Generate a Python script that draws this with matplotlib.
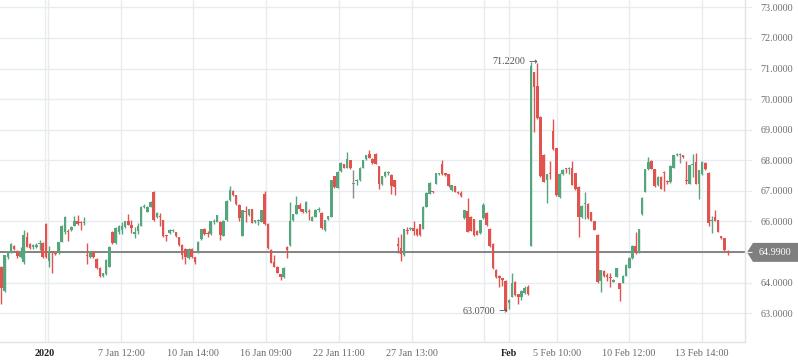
import matplotlib
matplotlib.use('Agg')
import matplotlib.pyplot as plt
import matplotlib.transforms as mtransforms
from matplotlib.patches import Polygon
import numpy as np

# candle data (o, h, l, c), hourly-ish bars
opens = [
    64.52, 63.72, 64.83, 65.01, 65.21, 65.04, 64.85, 64.66, 65.48, 65.26,
    65.18, 65.18, 65.25, 65.28, 65.93, 64.72, 65.04, 64.96, 64.96, 65.34,
    65.64, 65.66, 65.72, 65.86, 66.02, 65.96, 65.94, 64.92, 64.83, 64.99,
    64.77, 64.48, 64.21, 64.28, 64.52, 65.66, 65.28, 65.64, 65.72, 65.83,
    66.00, 65.88, 65.60, 65.70, 65.86, 66.46, 66.32, 66.48, 66.97, 66.13,
    66.15, 66.04, 65.55, 65.62, 65.70, 65.64, 65.48, 65.24, 65.10, 64.80,
    65.10, 64.83, 65.00, 65.42, 65.75, 65.62, 65.58, 65.99, 65.99, 65.99,
    65.53, 66.04, 66.70, 67.00, 66.86, 66.53, 65.53, 66.33, 66.20, 66.40,
    65.97, 66.00, 65.99, 66.89, 65.93, 65.07, 64.68, 64.52, 64.27, 64.17,
    65.17, 65.23, 66.04, 66.26, 66.53, 66.40, 66.30, 66.32, 66.02, 66.15,
    66.38, 66.28, 65.72, 66.08, 66.15, 67.48, 67.10, 67.64, 67.87, 67.76,
    68.00, 67.22, 67.33, 67.35, 67.76, 68.03, 68.22, 68.05, 68.22, 67.80,
    67.22, 67.48, 67.58, 67.53, 67.35, 65.25, 65.14, 64.90, 65.72, 65.74,
    65.80, 65.77, 65.91, 65.77, 66.48, 66.91, 66.99, 67.24, 67.55, 67.89,
    67.58, 67.54, 67.02, 67.15, 66.97, 66.93, 66.10, 66.35, 66.15, 66.07,
    65.70, 65.61, 66.10, 66.28, 65.77, 65.26, 64.43, 64.22, 64.14, 64.07,
    63.32, 63.54, 64.03, 63.62, 63.54, 63.65, 63.85, 65.21, 70.87, 70.42,
    69.42, 68.17, 67.34, 67.56, 68.97, 68.39, 66.80, 67.55, 67.74, 67.72,
    67.74, 67.58, 67.14, 66.14, 66.56, 66.58, 66.30, 66.00, 65.57, 64.04,
    64.39, 64.24, 64.17, 64.03, 64.20, 63.98, 64.00, 64.23, 64.49, 64.80,
    65.20, 64.98, 66.24, 66.97, 67.70, 67.98, 67.71, 67.18, 67.46, 67.60,
    67.32, 67.29, 67.76, 68.16, 68.18, 68.16, 67.34, 67.24, 67.86, 67.95,
    67.24, 67.54, 67.92, 67.59, 66.00, 66.13, 66.04, 65.52, 65.45, 65.05,
]
highs = [
    64.55, 64.91, 65.02, 65.30, 65.24, 65.06, 65.15, 65.72, 65.64, 65.30,
    65.25, 65.28, 65.40, 65.32, 65.95, 65.20, 65.05, 64.98, 65.34, 65.88,
    66.17, 65.75, 65.86, 66.18, 66.22, 66.00, 66.13, 65.30, 65.05, 65.02,
    64.80, 64.50, 64.32, 64.78, 65.20, 65.70, 65.82, 65.88, 65.98, 66.02,
    66.24, 66.06, 65.82, 65.95, 66.50, 66.56, 66.50, 66.66, 67.00, 66.31,
    66.29, 66.06, 65.56, 65.74, 65.76, 65.66, 65.50, 65.26, 65.12, 65.12,
    65.13, 64.85, 65.36, 65.77, 65.78, 65.70, 66.03, 66.08, 66.22, 66.01,
    66.04, 66.69, 67.15, 67.04, 66.88, 66.56, 66.39, 66.50, 66.42, 66.42,
    66.06, 66.08, 66.39, 66.99, 65.95, 65.09, 64.90, 64.54, 64.29, 64.50,
    65.19, 66.64, 66.26, 66.83, 66.60, 66.42, 66.66, 66.40, 66.17, 66.41,
    66.46, 66.30, 66.06, 66.19, 67.37, 67.50, 67.64, 67.93, 67.89, 68.27,
    68.02, 67.68, 67.39, 67.78, 68.02, 68.18, 68.33, 68.07, 68.24, 67.82,
    67.50, 67.64, 67.64, 67.56, 67.37, 65.50, 65.58, 65.76, 65.82, 65.82,
    66.00, 65.79, 65.93, 66.50, 66.95, 67.28, 67.01, 67.59, 67.60, 68.00,
    67.60, 67.56, 67.20, 67.17, 67.00, 67.00, 66.39, 66.78, 66.17, 66.09,
    65.72, 66.06, 66.60, 66.30, 65.79, 65.28, 64.45, 64.24, 64.16, 64.09,
    63.45, 64.30, 64.05, 63.64, 63.76, 63.90, 63.92, 71.22, 70.89, 71.18,
    69.44, 68.19, 67.56, 67.98, 69.34, 68.41, 67.57, 67.70, 67.76, 67.78,
    67.98, 67.60, 67.16, 66.53, 66.95, 66.60, 66.32, 66.02, 65.59, 64.43,
    64.41, 64.30, 64.30, 64.12, 64.49, 64.00, 64.25, 64.60, 64.84, 65.22,
    65.66, 65.76, 66.80, 67.72, 68.10, 68.00, 67.73, 67.48, 67.48, 67.65,
    67.35, 67.84, 68.18, 68.24, 68.25, 68.18, 67.98, 67.86, 68.20, 68.25,
    67.69, 67.97, 67.94, 67.61, 66.19, 66.39, 66.06, 65.54, 65.47, 65.07,
]
lows = [
    63.30, 63.70, 64.78, 64.98, 65.08, 64.79, 64.82, 64.62, 65.16, 65.10,
    65.10, 65.12, 65.07, 64.80, 64.80, 64.50, 64.30, 64.92, 64.94, 65.32,
    65.60, 65.37, 65.70, 65.84, 65.89, 65.73, 65.90, 64.60, 64.80, 64.82,
    64.45, 64.18, 64.18, 64.25, 64.50, 65.25, 65.26, 65.60, 65.58, 65.80,
    65.88, 65.62, 65.45, 65.60, 65.84, 66.44, 66.30, 66.46, 66.03, 66.10,
    65.85, 65.50, 65.37, 65.60, 65.65, 65.49, 65.21, 64.78, 64.60, 64.78,
    64.80, 64.60, 64.98, 65.40, 65.57, 65.48, 65.56, 65.93, 65.97, 65.38,
    65.51, 66.02, 66.68, 66.84, 66.54, 66.00, 65.51, 65.97, 66.18, 65.94,
    65.95, 65.90, 65.97, 65.90, 65.10, 64.63, 64.50, 64.31, 64.09, 64.15,
    64.80, 65.21, 66.02, 66.24, 66.35, 66.28, 66.28, 66.05, 66.00, 66.13,
    66.30, 65.77, 65.70, 66.06, 66.13, 67.11, 67.08, 67.62, 67.74, 67.74,
    67.73, 66.76, 67.20, 67.33, 67.74, 68.01, 68.07, 67.89, 67.87, 67.05,
    67.20, 67.46, 67.52, 66.90, 66.88, 64.96, 64.72, 64.88, 65.60, 65.72,
    65.55, 65.53, 65.53, 65.75, 66.46, 66.89, 66.93, 67.22, 67.53, 67.52,
    67.50, 67.13, 67.00, 66.95, 66.90, 66.81, 66.08, 65.64, 65.68, 65.53,
    65.55, 65.59, 66.08, 65.86, 65.18, 64.45, 64.15, 63.85, 63.90, 63.07,
    63.15, 63.52, 63.58, 63.30, 63.42, 63.63, 63.61, 65.19, 68.93, 69.35,
    67.47, 67.28, 66.62, 67.40, 68.34, 66.83, 66.78, 67.53, 67.60, 67.55,
    67.18, 67.03, 65.48, 66.12, 66.08, 66.08, 66.01, 65.71, 63.99, 63.70,
    64.20, 64.05, 63.87, 64.01, 64.18, 63.41, 63.98, 64.21, 64.47, 64.78,
    64.95, 64.96, 66.22, 66.95, 67.68, 67.71, 67.13, 67.16, 67.05, 67.00,
    67.22, 67.27, 67.74, 68.14, 67.90, 68.09, 67.22, 67.22, 67.45, 67.22,
    66.75, 67.52, 67.68, 65.84, 65.61, 66.00, 65.64, 65.43, 65.05, 64.91,
]
closes = [
    63.82, 64.91, 65.01, 65.26, 65.10, 64.88, 64.96, 65.57, 65.18, 65.13,
    65.20, 65.22, 65.28, 64.85, 64.83, 65.04, 64.96, 64.94, 65.32, 65.86,
    66.15, 65.64, 65.83, 66.02, 65.91, 65.94, 65.97, 64.88, 65.02, 64.85,
    64.48, 64.21, 64.30, 64.75, 65.17, 65.28, 65.80, 65.86, 65.86, 66.00,
    65.88, 65.78, 65.66, 65.86, 66.46, 66.48, 66.48, 66.64, 66.05, 66.29,
    66.13, 65.53, 65.53, 65.72, 65.72, 65.51, 65.23, 64.91, 64.83, 65.10,
    64.83, 64.68, 65.34, 65.75, 65.59, 65.59, 66.01, 66.03, 66.20, 65.55,
    66.02, 66.67, 67.02, 66.86, 66.57, 66.12, 66.37, 66.31, 66.40, 65.96,
    66.04, 66.02, 66.37, 65.91, 65.12, 64.65, 64.52, 64.33, 64.17, 64.49,
    65.07, 66.01, 66.24, 66.53, 66.42, 66.30, 66.64, 66.30, 66.15, 66.39,
    66.40, 65.79, 66.04, 66.17, 67.35, 67.13, 67.62, 67.91, 67.76, 68.03,
    67.75, 67.22, 67.37, 67.76, 68.00, 68.16, 68.09, 67.91, 67.89, 67.24,
    67.48, 67.62, 67.60, 67.15, 67.13, 65.21, 64.95, 65.74, 65.70, 65.80,
    65.70, 65.55, 65.55, 66.48, 66.93, 67.26, 66.97, 67.57, 67.58, 67.54,
    67.52, 67.15, 67.18, 66.97, 66.94, 66.83, 66.37, 65.66, 65.70, 65.55,
    65.57, 66.04, 66.53, 65.88, 65.20, 64.47, 64.17, 64.14, 64.08, 63.11,
    63.43, 63.98, 63.60, 63.54, 63.74, 63.83, 63.63, 71.08, 70.40, 69.37,
    67.49, 67.30, 67.54, 67.54, 68.36, 66.85, 67.55, 67.68, 67.72, 67.74,
    67.20, 67.05, 66.14, 66.51, 66.58, 66.10, 66.03, 65.73, 64.01, 64.42,
    64.22, 64.20, 64.15, 64.10, 64.47, 63.78, 64.23, 64.58, 64.82, 65.20,
    64.98, 65.74, 66.78, 67.70, 67.95, 67.73, 67.15, 67.46, 67.07, 67.58,
    67.30, 67.82, 68.16, 68.22, 68.18, 68.11, 67.32, 67.84, 67.88, 67.24,
    67.67, 67.95, 67.70, 65.96, 66.02, 66.02, 65.66, 65.45, 65.07, 64.99,
]

y_ticks = [63, 64, 65, 66, 67, 68, 69, 70, 71, 72, 73]
x_tick_pos = [13.7, 37.7, 60.4, 83.4, 106.5, 129.5, 152.2, 160.1, 175.2, 197.9, 221.0]
x_tick_labels = ['2020', '7 Jan 12:00', '10 Jan 14:00', '16 Jan 09:00', '22 Jan 11:00',
                 '27 Jan 13:00', '', 'Feb', '5 Feb 10:00', '10 Feb 12:00', '13 Feb 14:00']

GREEN = '#55a67d'
RED = '#e0534f'
GRAY = '#8c8c8c'
GRID = '#e8ebef'

plt.rcParams['font.family'] = ['Liberation Serif', 'DejaVu Sans']

o = np.array(opens)
h = np.array(highs)
l = np.array(lows)
c = np.array(closes)
x = np.arange(len(c))

fig = plt.figure(figsize=(7.98, 3.63), dpi=100)
ax = fig.add_axes([0, 21 / 363, 745 / 798, 342 / 363])

cols = np.where(c > o, GREEN, np.where(c < o, RED, GRAY))
ax.vlines(x, l, h, colors=cols, lw=1.0, zorder=3)
ax.bar(x, np.maximum(np.abs(c - o), 0.035), bottom=np.minimum(o, c),
       width=0.8, color=cols, linewidth=0, zorder=4)

# last price line
last = c[-1]
ax.axhline(last, color='#7b7b7b', lw=1.3, zorder=2)

ax.set_xlim(-0.47, 234.5)
ax.set_ylim(62.06, 73.24)

ax.set_yticks(y_ticks)
# the 65 label sits under the price tag, so it is left blank
ax.set_yticklabels(['' if v == 65 else f'{v:.4f}' for v in y_ticks])
ax.yaxis.tick_right()
ax.set_xticks(x_tick_pos)
ax.set_xticklabels(x_tick_labels)
ax.grid(True, color=GRID, lw=1, zorder=0)
ax.axvline(14.7, color=GRID, lw=1, zorder=0)
ax.tick_params(axis='y', length=5, color=GRID, labelcolor='#707070', labelsize=7.3, pad=6)
ax.tick_params(axis='x', length=0, labelcolor='#6a6a6a', labelsize=7.3, pad=5)
for lab in ax.get_xticklabels():
    if lab.get_text() in ('2020', 'Feb'):
        lab.set_fontweight('bold')
        lab.set_color('#222222')

for s in ['top', 'left']:
    ax.spines[s].set_visible(False)
for s in ['right', 'bottom']:
    ax.spines[s].set_color('#dfe2e6')
    ax.spines[s].set_linewidth(1)

# high / low markers: value + arrow pointing at the bar
hi = int(np.argmax(h))
lo = int(np.argmin(l))
for idx, val, tip in [(hi, h[hi], 6), (lo, l[lo], 2)]:
    ax.annotate('→', xy=(idx, val), xytext=(tip, 0), textcoords='offset pixels',
                ha='right', va='center', fontsize=7.5, color='#555555',
                family='DejaVu Sans', zorder=5)
    ax.annotate(f'{val:.4f}', xy=(idx, val), xytext=(tip - 12, 0), textcoords='offset pixels',
                ha='right', va='center', fontsize=7.3, color='#555555', zorder=5)

# price tag on the right
tr = mtransforms.blended_transform_factory(fig.transFigure, ax.transData)
hh = 0.31
tag = Polygon([(747 / 798, last), (753 / 798, last + hh), (1.0, last + hh),
               (1.0, last - hh), (753 / 798, last - hh)],
              closed=True, transform=tr, facecolor='#7f7f7f', edgecolor='none', clip_on=False)
ax.add_patch(tag)
ax.text(775 / 798, last, f'{last:.4f}', transform=tr, ha='center', va='center',
        fontsize=7.3, color='white', clip_on=False)

plt.savefig('out.png', dpi=100)
